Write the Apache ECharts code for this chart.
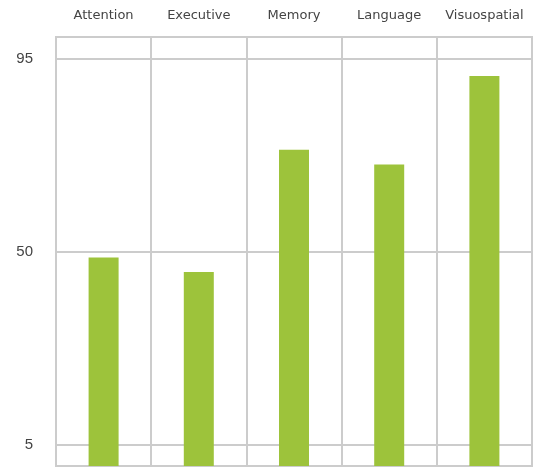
<!DOCTYPE html>
<html>
<head>
<meta charset="utf-8">
<script src="https://cdn.jsdelivr.net/npm/echarts@6/dist/echarts.min.js"></script>
<style>html,body{margin:0;padding:0;background:#fff}#c{width:534px;height:469px}</style>
</head>
<body>
<div id="c"></div>
<script>
const categories = ['Attention', 'Executive', 'Memory', 'Language', 'Visuospatial'];
const scores = [48.6, 45.2, 73.7, 70.3, 90.9];
const yTicks = [5, 50, 95];

const chart = echarts.init(document.getElementById('c'), null, {renderer: 'canvas'});
chart.setOption({
  animation: false,
  backgroundColor: '#ffffff',
  grid: {left: 56, right: 2, top: 37, bottom: 3, show: true, borderColor: '#cccccc', borderWidth: 2},
  xAxis: {
    type: 'category',
    position: 'top',
    data: categories,
    axisLine: {show: false},
    axisTick: {show: false, interval: 0},
    axisLabel: {interval: 0, color: '#444', fontSize: 13, fontFamily: 'DejaVu Sans', margin: 15},
    splitLine: {show: true, interval: 0, lineStyle: {color: '#cccccc', width: 2}}
  },
  yAxis: {
    type: 'value',
    min: 0,
    max: 100,
    axisLine: {show: false},
    axisTick: {show: false, customValues: yTicks},
    axisLabel: {customValues: yTicks, color: '#444', fontSize: 15, fontFamily: 'Liberation Sans', margin: 23},
    splitLine: {show: true, lineStyle: {color: '#cccccc', width: 2}}
  },
  series: [{
    type: 'bar',
    data: scores,
    barWidth: 30,
    itemStyle: {color: '#9dc33b'}
  }]
});
</script>
</body>
</html>
